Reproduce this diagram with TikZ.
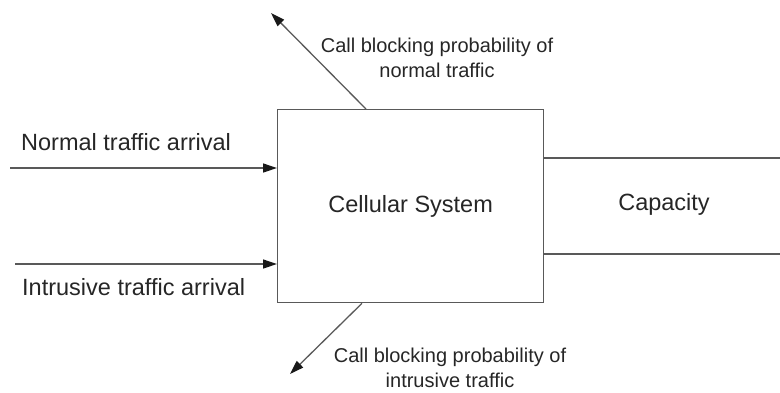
\documentclass[tikz,border=0pt]{standalone}
\usepackage{fontspec}
\setmainfont{Liberation Sans}
\usetikzlibrary{arrows.meta}
\begin{document}
\begin{tikzpicture}[x=1pt,y=-1pt,
  line/.style={draw=black!65, line width=1.3pt},
  arr/.style={line, -{Triangle[length=14pt,width=9pt,color=black!90]}},
  big/.style={font=\fontsize{23.5}{28}\selectfont, text=black!85, inner sep=0},
  small/.style={font=\fontsize{20}{25}\selectfont, text=black!85, align=center, inner sep=0}]
\useasboundingbox (0,0) rectangle (780,392);
\node[line, big, minimum width=266pt, minimum height=193pt, anchor=north west] (sys) at (277,109) {Cellular System};
% capacity
\coordinate (c1) at (780,158);
\coordinate (c2) at (780,254);
\draw[line] (sys.east |- c1) -- (c1);
\draw[line] (sys.east |- c2) -- (c2);
\node[big] (cap) at (664,204) {Capacity};
% inputs
\coordinate (n0) at (10,168);
\draw[arr] (n0) -- (sys.west |- n0);
\node[big, anchor=west] (nlbl) at (21,142) {Normal traffic arrival};
\coordinate (i0) at (15,264);
\draw[arr] (i0) -- (sys.west |- i0);
\node[big, anchor=west] (ilbl) at (22,287) {Intrusive traffic arrival};
% outputs
\coordinate (t1) at (271,13);
\draw[arr] ([xshift=89pt]sys.north west) -- (t1);
\node[small] (tlbl) at (437,58) {Call blocking probability of\\normal traffic};
\coordinate (b1) at (290,374);
\draw[arr] ([xshift=85pt]sys.south west) -- (b1);
\node[small] (blbl) at (450,368) {Call blocking probability of\\intrusive traffic};
\end{tikzpicture}
\end{document}
